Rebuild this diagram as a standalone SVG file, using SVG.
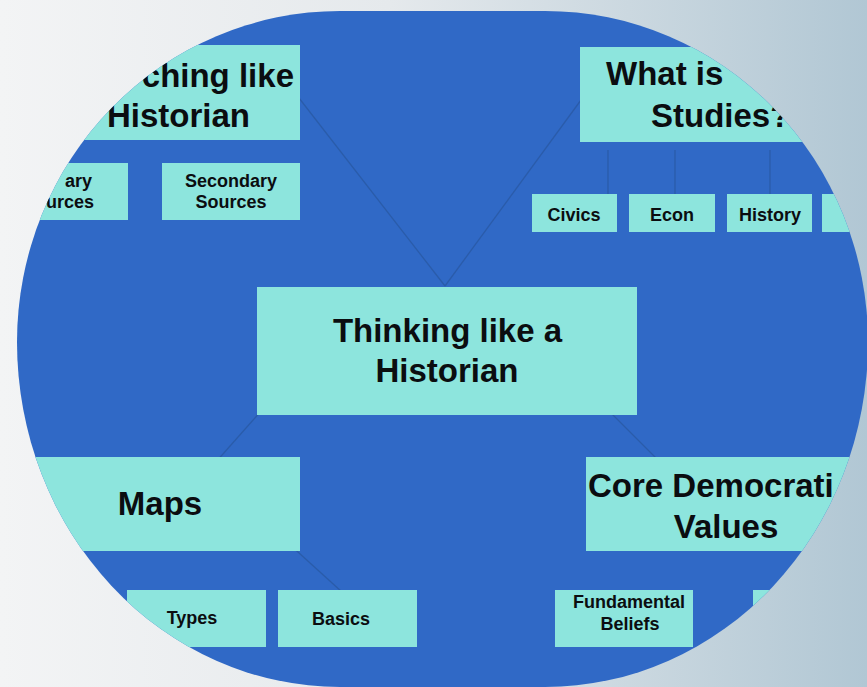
<svg xmlns="http://www.w3.org/2000/svg" width="867" height="687" viewBox="0 0 867 687">
  <defs>
    <linearGradient id="bg" x1="0" y1="0" x2="1" y2="0">
      <stop offset="0" stop-color="#f3f4f5"/>
      <stop offset="0.45" stop-color="#e5e9ec"/>
      <stop offset="1" stop-color="#b1c7d4"/>
    </linearGradient>
    <clipPath id="blob">
      <path d="M17,342 A323,331 0 0 1 340,11 L545,11 A323,331 0 0 1 868,342 A323,345 0 0 1 545,687 L340,687 A323,345 0 0 1 17,342 Z"/>
    </clipPath>
  </defs>
  <style>
    .box { fill: #8de5dd; }
    .big { font-family: "Liberation Sans", Arial, sans-serif; font-weight: bold; font-size: 33px; fill: #0b0d10; }
    .small { font-family: "Liberation Sans", Arial, sans-serif; font-weight: bold; font-size: 18px; fill: #0b0d10; }
    .link { stroke: #2a5caa; stroke-width: 1.3; fill: none; }
  </style>
  <rect x="0" y="0" width="867" height="687" fill="url(#bg)"/>
  <g clip-path="url(#blob)">
    <rect x="0" y="0" width="867" height="687" fill="#3069c6"/>
    <g id="connectors">
      <line class="link" x1="445" y1="286" x2="285" y2="80"/>
      <line class="link" x1="445" y1="286" x2="600" y2="74"/>
      <line class="link" x1="262" y1="410" x2="215" y2="463"/>
      <line class="link" x1="610" y1="412" x2="660" y2="462"/>
      <line class="link" x1="288" y1="543" x2="342" y2="592"/>
      <line class="link" x1="608" y1="150" x2="608" y2="195"/>
      <line class="link" x1="675" y1="150" x2="675" y2="195"/>
      <line class="link" x1="770" y1="150" x2="770" y2="195"/>
    </g>
    <g id="node-center">
      <rect class="box" x="257" y="287" width="380" height="128"/>
      <text class="big" x="447.5" y="342" text-anchor="middle">Thinking like a</text>
      <text class="big" x="447" y="382" text-anchor="middle">Historian</text>
    </g>
    <g id="node-topleft">
      <rect class="box" x="60" y="45" width="240" height="95"/>
      <text class="big" x="294" y="87" text-anchor="end">ching like</text>
      <text class="big" x="107" y="127">Historian</text>
    </g>
    <g id="node-primary">
      <rect class="box" x="-10" y="163" width="138" height="57"/>
      <text class="small" x="92" y="187" text-anchor="end">ary</text>
      <text class="small" x="94" y="208" text-anchor="end">urces</text>
    </g>
    <g id="node-secondary">
      <rect class="box" x="162" y="163" width="138" height="57"/>
      <text class="small" x="231" y="187" text-anchor="middle">Secondary</text>
      <text class="small" x="231" y="208" text-anchor="middle">Sources</text>
    </g>
    <g id="node-whatis">
      <rect class="box" x="580" y="47" width="290" height="95"/>
      <text class="big" x="606" y="85">What is</text>
      <text class="big" x="651" y="127">Studies?</text>
    </g>
    <g id="node-civics">
      <rect class="box" x="532" y="194" width="85" height="38"/>
      <text class="small" x="574" y="221" text-anchor="middle">Civics</text>
    </g>
    <g id="node-econ">
      <rect class="box" x="629" y="194" width="86" height="38"/>
      <text class="small" x="672" y="221" text-anchor="middle">Econ</text>
    </g>
    <g id="node-history">
      <rect class="box" x="727" y="194" width="85" height="38"/>
      <text class="small" x="770" y="221" text-anchor="middle">History</text>
    </g>
    <g id="node-fourth">
      <rect class="box" x="822" y="194" width="85" height="38"/>
    </g>
    <g id="node-maps">
      <rect class="box" x="20" y="457" width="280" height="94"/>
      <text class="big" x="160" y="515" text-anchor="middle">Maps</text>
    </g>
    <g id="node-types">
      <rect class="box" x="127" y="590" width="139" height="57"/>
      <text class="small" x="192" y="624" text-anchor="middle">Types</text>
    </g>
    <g id="node-basics">
      <rect class="box" x="278" y="590" width="139" height="57"/>
      <text class="small" x="341" y="625" text-anchor="middle">Basics</text>
    </g>
    <g id="node-core">
      <rect class="box" x="586" y="457" width="290" height="94"/>
      <text class="big" x="588" y="497">Core Democrati</text>
      <text class="big" x="726" y="538" text-anchor="middle">Values</text>
    </g>
    <g id="node-fundamental">
      <rect class="box" x="555" y="590" width="138" height="57"/>
      <text class="small" x="629" y="608" text-anchor="middle">Fundamental</text>
      <text class="small" x="630" y="630" text-anchor="middle">Beliefs</text>
    </g>
    <g id="node-rightpartial">
      <rect class="box" x="753" y="590" width="139" height="57"/>
    </g>
  </g>
</svg>
